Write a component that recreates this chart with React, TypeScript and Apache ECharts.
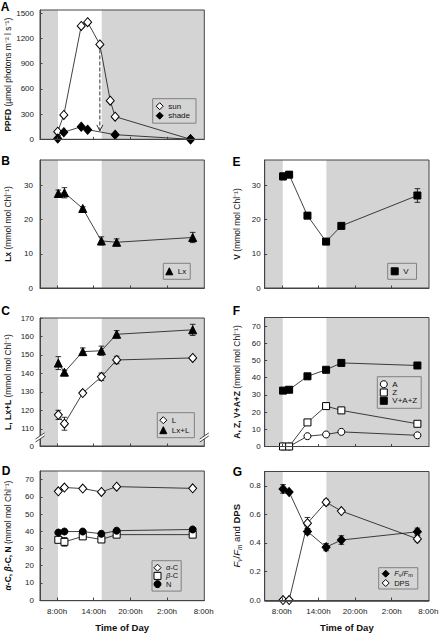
import React, { useEffect, useRef } from 'react';
import * as echarts from 'echarts';

// ---------- data ----------
const xTickHours = [8, 14, 20, 26, 32];
const xTickLabels = ['8:00h', '14:00h', '20:00h', '2:00h', '8:00h'];
const lightPeriod = [8.15, 15.3]; // white (unshaded) part of the day
const sampleHours = [8.2, 9.2, 12.2, 15.25, 17.75, 30.2];

// A
const sunHours = [8.1, 9.1, 11.95, 13.0, 15.0, 16.7, 17.5, 29.85];
const sunPPFD = [90, 290, 1350, 1395, 1130, 460, 270, 0];
const shadeHours = [8.1, 9.1, 11.95, 13.0, 17.5, 29.85];
const shadePPFD = [10, 85, 150, 115, 55, 0];
const transferArrow = [15.0, 1130, 100]; // hour, from, to

// B
const lx = [27.7, 27.9, 23.3, 13.8, 13.4, 14.8];
const lxErr = [1.0, 1.5, 0.5, 1.2, 1.0, 1.5];
// C
const lut = [117.6, 112.8, 129.4, 138.2, 147.3, 148.4];
const lutErr = [2.5, 3.5, 1.0, 2.0, 2.0, 1.0];
const lxl = [145.6, 140.7, 151.8, 152.3, 161.2, 163.6];
const lxlErr = [3.5, 1.0, 2.0, 2.5, 2.0, 3.0];
// D
const aCar = [63.2, 65.4, 64.8, 62.8, 65.9, 64.9];
const aCarErr = [0.8, 0.8, 0.8, 0.8, 0.8, 0.8];
const bCar = [35.0, 33.8, 37.0, 35.2, 38.0, 38.0];
const bCarErr = [1.0, 2.5, 1.0, 1.0, 0.8, 0.8];
const neo = [39.2, 39.8, 39.8, 38.5, 40.3, 41.0];
const neoErr = [0.5, 0.5, 0.5, 0.5, 0.5, 0.5];
// E
const vio = [32.7, 33.2, 21.2, 13.6, 18.2, 27.1];
const vioErr = [1.0, 0.8, 0.8, 0.5, 0.5, 2.0];
// F
const ant = [0, 0, 6.0, 7.0, 8.5, 6.5];
const antErr = [0, 0, 0.5, 0.5, 0.7, 0.5];
const zea = [0, 0, 14.0, 23.5, 21.0, 13.2];
const zeaErr = [0, 0, 0.7, 0.8, 1.0, 0.8];
const vaz = [32.5, 33.0, 40.8, 44.6, 48.6, 47.1];
const vazErr = [0.5, 0.5, 1.5, 1.0, 1.5, 1.0];
// G
const fvfm = [0.778, 0.756, 0.48, 0.37, 0.42, 0.478];
const fvfmErr = [0.03, 0.01, 0.02, 0.025, 0.03, 0.025];
const dps = [0, 0, 0.538, 0.685, 0.623, 0.428];
const dpsErr = [0, 0, 0.04, 0.02, 0.01, 0.02];

// tick values
const ppfdTicks = [0, 300, 600, 900, 1200, 1500];
const lxTicks = [0, 10, 20, 30];
const lutBreakBottom = 100.76;
const lutTicks = [lutBreakBottom, 110, 120, 130, 140, 150, 160, 170];
const carTicks = [0, 10, 20, 30, 40, 50, 60, 70];
const fvTicks = [0, 0.2, 0.4, 0.6, 0.8];

// ---------- styling ----------
const FONT = '"Liberation Sans", Arial, Helvetica, sans-serif';
const GRAY = '#d4d4d4';
const FRAME = '#444';
const LW = 40;
const RW = 264.7;
const PW = 164.3;

const SYM: Record<string, { symbol: string; size: number | number[]; fill: string }> = {
  openDiamond: { symbol: 'diamond', size: [8, 9], fill: '#fff' },
  filledDiamond: { symbol: 'diamond', size: [8, 9], fill: '#000' },
  triangle: { symbol: 'triangle', size: 8, fill: '#000' },
  openCircle: { symbol: 'circle', size: 7, fill: '#fff' },
  filledCircle: { symbol: 'circle', size: 7, fill: '#000' },
  openSquare: { symbol: 'rect', size: 7, fill: '#fff' },
  filledSquare: { symbol: 'rect', size: 7, fill: '#000' },
};

const nameRich = {
  b: { fontWeight: 'bold', fontSize: 8.5, fontFamily: FONT, color: '#111' },
  bi: { fontWeight: 'bold', fontStyle: 'italic', fontSize: 8.5, fontFamily: FONT, color: '#111' },
  i: { fontStyle: 'italic', fontSize: 9.5, fontFamily: FONT, color: '#111', lineHeight: 12 },
  gb: { fontWeight: 'bold', fontSize: 9.5, fontFamily: FONT, color: '#111', lineHeight: 12 },
  gn: { fontSize: 9.5, fontFamily: FONT, color: '#111', lineHeight: 12 },
  sub: { fontStyle: 'italic', fontSize: 6.5, fontFamily: FONT, color: '#111', verticalAlign: 'bottom', lineHeight: 8 },
};

type Panel = {
  grid: { left: number; top: number; width: number; height: number };
  y: { min: number; max: number; ticks: number[]; fmt?: (v: number) => string; margin: number };
  name: string;
  nameGap: number;
  letter: string;
  letterPos: number[];
  timeAxis: boolean;
};

const panels: Panel[] = [
  {
    grid: { left: LW, top: 10, width: PW, height: 129.3 },
    y: { min: 0, max: 1540, ticks: ppfdTicks, margin: 6 },
    name: '{b|PPFD} (µmol photons m⁻² l s⁻¹)', nameGap: 24, letter: 'A', letterPos: [5, 6.5], timeAxis: false,
  },
  {
    grid: { left: LW, top: 160, width: PW, height: 128 },
    y: { min: 0, max: 37.5, ticks: lxTicks, margin: 7 },
    name: '{b|Lx} (mmol mol Chl⁻¹)', nameGap: 28, letter: 'B', letterPos: [5.5, 161], timeAxis: false,
  },
  {
    grid: { left: LW, top: 318, width: PW, height: 128 },
    y: { min: lutBreakBottom, max: 170, ticks: lutTicks, margin: 6, fmt: (v) => (v < 105 ? '0' : String(v)) },
    name: '{b|L, Lx+L} (mmol mol Chl⁻¹)', nameGap: 28, letter: 'C', letterPos: [5.5, 311], timeAxis: false,
  },
  {
    grid: { left: LW, top: 471, width: PW, height: 129.7 },
    y: { min: 0, max: 75, ticks: carTicks, margin: 6 },
    name: '{bi|α}{b|-C, }{bi|β}{b|-C, N} (mmol mol Chl⁻¹)', nameGap: 28, letter: 'D', letterPos: [6, 471], timeAxis: true,
  },
  {
    grid: { left: RW, top: 160, width: PW, height: 128 },
    y: { min: 0, max: 37.5, ticks: lxTicks, margin: 4 },
    name: '{b|V} (mmol mol Chl⁻¹)', nameGap: 23, letter: 'E', letterPos: [236.5, 161.5], timeAxis: false,
  },
  {
    grid: { left: RW, top: 317.5, width: PW, height: 129 },
    y: { min: 0, max: 75, ticks: carTicks, margin: 4 },
    name: '{b|A, Z, V+A+Z} (mmol mol Chl⁻¹)', nameGap: 23, letter: 'F', letterPos: [236.5, 311], timeAxis: false,
  },
  {
    grid: { left: RW, top: 471.5, width: PW, height: 129.8 },
    y: { min: 0, max: 0.9, ticks: fvTicks, margin: 4, fmt: (v) => v.toFixed(1) },
    name: '{i|F}{sub|v}{gn|/}{i|F}{sub|m}{gn| and }{gb|DPS}', nameGap: 22, letter: 'G', letterPos: [237.5, 471.5], timeAxis: true,
  },
];

// ---------- series helpers ----------
function lineSeries(name: string, gi: number, xs: number[], ys: number[], symKey: string) {
  const s = SYM[symKey];
  return {
    type: 'line',
    name,
    xAxisIndex: gi,
    yAxisIndex: gi,
    data: xs.map((x, j) => [x, ys[j]]),
    symbol: s.symbol,
    symbolSize: s.size,
    showSymbol: true,
    showAllSymbol: true,
    itemStyle: { color: s.fill, borderColor: '#000', borderWidth: 1 },
    lineStyle: { color: '#111', width: 0.8 },
    z: 4,
    clip: false,
    silent: true,
  };
}

function errorSeries(gi: number, xs: number[], ys: number[], es: number[]) {
  return {
    type: 'custom',
    xAxisIndex: gi,
    yAxisIndex: gi,
    data: xs.map((x, j) => [x, ys[j], es[j]]),
    encode: { x: 0, y: 1 },
    z: 3,
    silent: true,
    renderItem: (_p: any, api: any) => {
      const x = api.value(0);
      const y = api.value(1);
      const e = api.value(2);
      if (!e) return null;
      const t = api.coord([x, y + e]);
      const b = api.coord([x, y - e]);
      const w = 2.8;
      const st = { stroke: '#000', lineWidth: 0.8 };
      return {
        type: 'group',
        children: [
          { type: 'line', shape: { x1: t[0], y1: t[1], x2: b[0], y2: b[1] }, style: st },
          { type: 'line', shape: { x1: t[0] - w, y1: t[1], x2: t[0] + w, y2: t[1] }, style: st },
          { type: 'line', shape: { x1: b[0] - w, y1: b[1], x2: b[0] + w, y2: b[1] }, style: st },
        ],
      };
    },
  };
}

function lightSeries(gi: number) {
  return {
    type: 'custom',
    xAxisIndex: gi,
    yAxisIndex: gi,
    data: [[lightPeriod[0], lightPeriod[1]]],
    encode: { x: [0, 1] },
    z: 1,
    silent: true,
    renderItem: (p: any, api: any) => {
      const cs = p.coordSys;
      const a = api.coord([api.value(0), 0]);
      const b = api.coord([api.value(1), 0]);
      return {
        type: 'rect',
        shape: { x: a[0], y: cs.y, width: b[0] - a[0], height: cs.height },
        style: { fill: '#fff' },
      };
    },
  };
}

function arrowSeries(gi: number) {
  return {
    type: 'custom',
    xAxisIndex: gi,
    yAxisIndex: gi,
    data: [transferArrow],
    encode: { x: 0, y: [1, 2] },
    z: 2,
    silent: true,
    renderItem: (_p: any, api: any) => {
      const x = api.value(0);
      const p1 = api.coord([x, api.value(1)]);
      const p2 = api.coord([x, api.value(2)]);
      const st = { stroke: '#333', lineWidth: 1, fill: 'none' };
      return {
        type: 'group',
        children: [
          { type: 'line', shape: { x1: p1[0], y1: p1[1] + 5, x2: p2[0], y2: p2[1] }, style: { ...st, lineDash: [4, 2] } },
          { type: 'polyline', shape: { points: [[p2[0] - 3, p2[1] - 6], [p2[0], p2[1]], [p2[0] + 3, p2[1] - 6]] }, style: st },
        ],
      };
    },
  };
}

function legendItem(name: string, symKey: string) {
  const s = SYM[symKey];
  return { name, icon: s.symbol, itemStyle: { color: s.fill, borderColor: '#000', borderWidth: 1 } };
}

function legendBox(left: number, top: number, padding: number[], lineHeight: number, itemGap: number, fontSize: number, data: any[]) {
  return {
    orient: 'vertical',
    left,
    top,
    padding,
    itemGap,
    itemWidth: 7,
    itemHeight: 7,
    backgroundColor: GRAY,
    borderColor: '#808080',
    borderWidth: 1,
    borderRadius: 0,
    selectedMode: false,
    z: 10,
    textStyle: {
      fontSize,
      fontFamily: FONT,
      color: '#111',
      lineHeight,
      rich: {
        i: { fontStyle: 'italic', fontSize, fontFamily: FONT, color: '#111' },
        s: { fontSize: fontSize - 2, fontFamily: FONT, color: '#111', verticalAlign: 'bottom', lineHeight: fontSize - 1 },
      },
    },
    formatter: (n: string) => {
      if (n === 'α-C') return '{i|α}-C';
      if (n === 'β-C') return '{i|β}-C';
      if (n === 'Fv/Fm') return '{i|F}{s|v}/{i|F}{s|m}';
      return n;
    },
    data,
  };
}

function buildOption() {
  const grid = panels.map((p) => ({ ...p.grid, show: true, backgroundColor: GRAY, borderWidth: 0, z: 0 }));

  const xAxis = panels.map((p, i) => ({
    type: 'value',
    gridIndex: i,
    min: 5.2,
    max: 32.1,
    z: 5,
    axisLine: { show: true, lineStyle: { color: FRAME, width: 1 } },
    axisTick: { show: true, inside: true, length: 2.5, customValues: xTickHours.slice(0, 4), lineStyle: { color: FRAME, width: 1 } },
    axisLabel: {
      show: p.timeAxis,
      customValues: xTickHours,
      formatter: (v: number) => {
        const k = xTickHours.findIndex((h) => Math.abs(h - v) < 0.01);
        return k >= 0 ? xTickLabels[k] : '';
      },
      fontSize: 8,
      fontFamily: FONT,
      color: '#222',
      margin: 7,
    },
    splitLine: { show: false },
    name: p.timeAxis ? 'Time of Day' : '',
    nameLocation: 'middle',
    nameGap: 22,
    nameTextStyle: { fontWeight: 'bold', fontSize: 9.5, fontFamily: FONT, color: '#111' },
  }));

  const yAxis = panels.map((p, i) => ({
    type: 'value',
    gridIndex: i,
    min: p.y.min,
    max: p.y.max,
    z: 5,
    axisLine: { show: true, lineStyle: { color: FRAME, width: 1 } },
    axisTick: { show: true, inside: true, length: 2.5, customValues: p.y.ticks, lineStyle: { color: FRAME, width: 1 } },
    axisLabel: {
      customValues: p.y.ticks,
      formatter: p.y.fmt ? p.y.fmt : (v: number) => String(v),
      fontSize: 8,
      fontFamily: FONT,
      color: '#222',
      margin: p.y.margin,
    },
    splitLine: { show: false },
    name: p.name,
    nameLocation: 'middle',
    nameGap: p.nameGap,
    nameTextStyle: { fontSize: 8.5, fontFamily: FONT, color: '#111', rich: nameRich },
  }));

  const series: any[] = [];
  panels.forEach((_p, i) => series.push(lightSeries(i)));

  // A
  series.push(arrowSeries(0));
  series.push(lineSeries('sun', 0, sunHours, sunPPFD, 'openDiamond'));
  series.push(lineSeries('shade', 0, shadeHours, shadePPFD, 'filledDiamond'));
  // B
  series.push(errorSeries(1, sampleHours, lx, lxErr));
  series.push(lineSeries('Lx', 1, sampleHours, lx, 'triangle'));
  // C
  series.push(errorSeries(2, sampleHours, lut, lutErr));
  series.push(errorSeries(2, sampleHours, lxl, lxlErr));
  series.push(lineSeries('L', 2, sampleHours, lut, 'openDiamond'));
  series.push(lineSeries('Lx+L', 2, sampleHours, lxl, 'triangle'));
  // D
  series.push(errorSeries(3, sampleHours, aCar, aCarErr));
  series.push(errorSeries(3, sampleHours, bCar, bCarErr));
  series.push(errorSeries(3, sampleHours, neo, neoErr));
  series.push(lineSeries('α-C', 3, sampleHours, aCar, 'openDiamond'));
  series.push(lineSeries('β-C', 3, sampleHours, bCar, 'openSquare'));
  series.push(lineSeries('N', 3, sampleHours, neo, 'filledCircle'));
  // E
  series.push(errorSeries(4, sampleHours, vio, vioErr));
  series.push(lineSeries('V', 4, sampleHours, vio, 'filledSquare'));
  // F
  series.push(errorSeries(5, sampleHours, ant, antErr));
  series.push(errorSeries(5, sampleHours, zea, zeaErr));
  series.push(errorSeries(5, sampleHours, vaz, vazErr));
  series.push(lineSeries('A', 5, sampleHours, ant, 'openCircle'));
  series.push(lineSeries('Z', 5, sampleHours, zea, 'openSquare'));
  series.push(lineSeries('V+A+Z', 5, sampleHours, vaz, 'filledSquare'));
  // G
  series.push(errorSeries(6, sampleHours, fvfm, fvfmErr));
  series.push(errorSeries(6, sampleHours, dps, dpsErr));
  series.push(lineSeries('Fv/Fm', 6, sampleHours, fvfm, 'filledDiamond'));
  series.push(lineSeries('DPS', 6, sampleHours, dps, 'openDiamond'));

  const legend = [
    legendBox(152.7, 98.7, [3, 6, 3, 3], 9, 0.5, 8, [legendItem('sun', 'openDiamond'), legendItem('shade', 'filledDiamond')]),
    legendBox(163.3, 263.3, [3.5, 4, 3.5, 2], 9, 1, 8, [legendItem('Lx', 'triangle')]),
    legendBox(157.3, 412.7, [3, 5, 3, 2], 9, 1, 8, [legendItem('L', 'openDiamond'), legendItem('Lx+L', 'triangle')]),
    legendBox(152, 560.7, [3, 3, 3, 1.5], 7.5, 0.2, 7.5, [legendItem('α-C', 'openDiamond'), legendItem('β-C', 'openSquare'), legendItem('N', 'filledCircle')]),
    legendBox(387.7, 263.3, [3.5, 8, 3.5, 3], 9, 1, 8, [legendItem('V', 'filledSquare')]),
    legendBox(377.3, 376.7, [3.5, 4, 3.5, 2.5], 8, 0.3, 8, [legendItem('A', 'openCircle'), legendItem('Z', 'openSquare'), legendItem('V+A+Z', 'filledSquare')]),
    legendBox(378.7, 567.7, [1.5, 5, 1.5, 3], 9, 0.3, 7.5, [legendItem('Fv/Fm', 'filledDiamond'), legendItem('DPS', 'openDiamond')]),
  ];

  const graphic: any[] = [];
  panels.forEach((p) => {
    graphic.push({
      type: 'rect',
      z: 100,
      silent: true,
      shape: { x: p.grid.left, y: p.grid.top, width: p.grid.width, height: p.grid.height },
      style: { fill: 'none', stroke: FRAME, lineWidth: 1 },
    });
    graphic.push({
      type: 'text',
      z: 100,
      x: p.letterPos[0],
      y: p.letterPos[1],
      style: { text: p.letter, fontSize: 12, fontWeight: 'bold', fontFamily: FONT, fill: '#000', align: 'center', verticalAlign: 'middle' },
    });
  });
  // axis break marks on panel C
  const c = panels[2].grid;
  const by = c.top + c.height - 9.3;
  [c.left, c.left + c.width].forEach((bx) => {
    graphic.push({
      type: 'polygon',
      z: 101,
      silent: true,
      shape: { points: [[bx - 4, by + 2], [bx + 4, by - 3.5], [bx + 4, by - 0.5], [bx - 4, by + 5]] },
      style: { fill: '#fff', stroke: 'none' },
    });
    graphic.push({ type: 'line', z: 102, silent: true, shape: { x1: bx - 4.5, y1: by + 2.3, x2: bx + 4.5, y2: by - 3.8 }, style: { stroke: '#333', lineWidth: 0.9 } });
    graphic.push({ type: 'line', z: 102, silent: true, shape: { x1: bx - 4.5, y1: by + 5.3, x2: bx + 4.5, y2: by - 0.8 }, style: { stroke: '#333', lineWidth: 0.9 } });
  });

  return {
    animation: false,
    backgroundColor: '#fff',
    textStyle: { fontFamily: FONT },
    grid,
    xAxis,
    yAxis,
    legend,
    series,
    graphic,
  };
}

export default function App() {
  const ref = useRef<HTMLDivElement>(null);
  useEffect(() => {
    if (!ref.current) return;
    const chart = echarts.init(ref.current, null, { renderer: 'svg' });
    chart.setOption(buildOption() as any);
    return () => chart.dispose();
  }, []);
  return <div ref={ref} style={{ position: 'absolute', left: 0, top: 0, width: 446, height: 633 }} />;
}
